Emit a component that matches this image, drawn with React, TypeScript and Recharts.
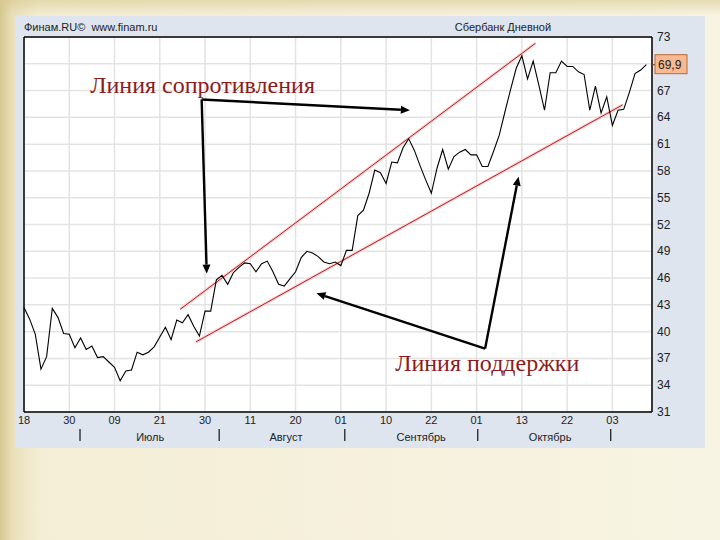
import { LineChart, Line, XAxis, YAxis, CartesianGrid, ReferenceLine, ReferenceDot } from 'recharts';

// Sberbank daily closes, one per trading day (18 Jun .. early Nov)
const closes = [
  42.7, 41.4, 39.7, 35.8, 37.2, 42.6, 41.6, 39.8, 39.7, 38.2,
  39.3, 38.0, 38.4, 37.1, 37.2, 36.6, 36.0, 34.5, 35.6, 35.7,
  37.7, 37.4, 37.7, 38.3, 39.4, 40.5, 39.1, 41.3, 41.0, 41.9,
  40.6, 39.5, 42.3, 42.3, 45.8, 46.3, 45.3, 46.6, 47.2, 47.7,
  47.6, 46.7, 47.6, 47.9, 46.7, 45.3, 45.1, 45.9, 46.7, 48.3,
  49.0, 48.8, 48.4, 47.8, 47.6, 47.8, 47.4, 49.1, 49.1, 53.0,
  53.6, 55.5, 58.1, 57.8, 56.6, 59.0, 58.9, 60.6, 61.6, 60.3,
  58.6, 57.0, 55.5, 58.3, 60.4, 58.2, 59.6, 60.1, 60.4, 59.8,
  59.8, 58.5, 58.5, 60.2, 62.0, 64.6, 67.1, 69.5, 70.9, 68.3,
  70.3, 67.6, 64.8, 69.0, 69.0, 70.3, 69.7, 69.7, 69.1, 68.8,
  64.8, 67.5, 64.5, 66.3, 63.1, 64.8, 64.9, 66.8, 68.9, 69.3,
  69.9,
];

const dayTicks = [0, 8, 16, 24, 32, 40, 48, 56, 64, 72, 80, 88, 96, 104];
const dayLabels = ['18', '30', '09', '21', '30', '11', '20', '01', '10', '22', '01', '13', '22', '03'];
const monthNames = ['Июль', 'Август', 'Сентябрь', 'Октябрь'];
const monthCenters = [22.3, 46.3, 70.2, 93.0];
const monthBreaks = [9.9, 34.5, 56.7, 80.2, 103.7];
const priceTicks = [31, 34, 37, 40, 43, 46, 49, 52, 55, 58, 61, 64, 67, 70, 73];
const lastPrice = 69.9;

// channel lines
const resistance = [{ x: 27.6, y: 42.5 }, { x: 90.4, y: 72.3 }];
const support = [{ x: 30.4, y: 38.85 }, { x: 105.8, y: 65.4 }];

// annotation arrows (corner -> target)
const resistCorner = { x: 31.4, y: 66.0 };
const resistTargets = [{ x: 68.2, y: 64.8 }, { x: 32.3, y: 46.5 }];
const supportCorner = { x: 81.5, y: 38.1 };
const supportTargets = [{ x: 51.7, y: 44.3 }, { x: 87.4, y: 57.35 }];

const data = closes.map((v, i) => ({ i, v }));
const sans = '"Liberation Sans", Arial, sans-serif';

function DayTick(props: any) {
  const { x, y, payload } = props;
  const k = dayTicks.indexOf(payload.value);
  return (
    <text x={x} y={y + 12} textAnchor="middle" fontSize={11} fontFamily={sans} fill="#222">
      {dayLabels[k]}
    </text>
  );
}

function MonthTick(props: any) {
  const { x, y, payload } = props;
  if (monthBreaks.includes(payload.value)) {
    return <line x1={x} x2={x} y1={y - 1} y2={y + 11} stroke="#222" strokeWidth={1.3} />;
  }
  const k = monthCenters.indexOf(payload.value);
  return (
    <text x={x} y={y + 11} textAnchor="middle" fontSize={11} fontFamily={sans} fill="#222">
      {monthNames[k]}
    </text>
  );
}

function PriceTick(props: any) {
  const { x, y, payload } = props;
  if (payload.value === 70) return null;
  return (
    <text x={x + 5} y={y + 4} fontSize={12} fontFamily={sans} fill="#222">
      {payload.value}
    </text>
  );
}

function arrowShape(props: any) {
  const { x1, y1, x2, y2 } = props;
  const a = Math.atan2(y2 - y1, x2 - x1);
  const len = 9;
  const w = 4;
  const bx = x2 - len * Math.cos(a);
  const by = y2 - len * Math.sin(a);
  const pts = `${x2},${y2} ${bx - w * Math.sin(a)},${by + w * Math.cos(a)} ${bx + w * Math.sin(a)},${by - w * Math.cos(a)}`;
  return (
    <g>
      <line x1={x1} y1={y1} x2={bx} y2={by} stroke="#000" strokeWidth={2.4} />
      <polygon points={pts} fill="#000" />
    </g>
  );
}

function lastPriceBox(props: any) {
  const { cx, cy } = props;
  return (
    <g>
      <line x1={cx} x2={cx + 3} y1={cy} y2={cy} stroke="#444" />
      <rect x={cx + 3} y={cy - 10} width={32} height={19} fill="#f7b98f" stroke="#b86a3a" />
      <text x={cx + 6} y={cy + 4} fontSize={12} fontFamily={sans} fill="#222">
        {String(lastPrice).replace('.', ',')}
      </text>
    </g>
  );
}

function captionShape(text: string) {
  return (props: any) => (
    <text x={props.cx} y={props.cy} fontSize={24} fontFamily='"Liberation Serif", "Times New Roman", serif' fill="#8b1c1c">
      {text}
    </text>
  );
}

export default function App() {
  return (
    <div
      style={{
        position: 'absolute',
        left: 0,
        top: 0,
        width: 720,
        height: 540,
        background:
          'linear-gradient(to bottom, rgba(214,200,140,0.55) 0px, rgba(255,255,255,0) 16px), linear-gradient(to right, #d6c890 0px, #e9dfb9 12px, #f4eed6 40px, #f8f4e3 100%)',
      }}
    >
      <div style={{ position: 'absolute', left: 15, top: 16, width: 690, height: 432, background: '#dfe5ef' }} />
      <div style={{ position: 'absolute', left: 24, top: 21, fontFamily: sans, fontSize: 11, color: '#222' }}>
        Финам.RU©&nbsp; www.finam.ru
      </div>
      <div style={{ position: 'absolute', left: 453, top: 21, width: 100, textAlign: 'center', fontFamily: sans, fontSize: 11, color: '#222' }}>
        Сбербанк Дневной
      </div>
      <div style={{ position: 'absolute', left: 0, top: 0 }}>
        <LineChart width={720} height={540} data={data} margin={{ top: 37, left: 24, right: 14, bottom: 90 }}>
          <CartesianGrid stroke="#e3e3e3" strokeWidth={1.5} fill="#ffffff" />
          <XAxis
            dataKey="i"
            type="number"
            domain={[0, 111]}
            ticks={dayTicks}
            interval={0}
            height={18}
            tickSize={0}
            tickMargin={0}
            tick={DayTick}
            axisLine={{ stroke: '#000', strokeWidth: 1.5 }}
          />
          <XAxis
            xAxisId="m"
            dataKey="i"
            type="number"
            domain={[0, 111]}
            ticks={[...monthBreaks, ...monthCenters].sort((a, b) => a - b)}
            interval={0}
            height={20}
            tickSize={0}
            tickMargin={0}
            tick={MonthTick}
            axisLine={false}
            tickLine={false}
          />
          <YAxis
            orientation="right"
            domain={[31, 73]}
            ticks={priceTicks}
            interval={0}
            width={54}
            tickSize={0}
            tickMargin={0}
            tick={PriceTick}
            axisLine={{ stroke: '#000', strokeWidth: 1.5 }}
          />
          <ReferenceLine y={73} stroke="#000" strokeWidth={1.5} />
          <ReferenceLine x={0} stroke="#000" strokeWidth={1.5} />

          <ReferenceLine segment={resistance} stroke="#f8d0d0" strokeWidth={3} />
          <ReferenceLine segment={resistance} stroke="#b82024" strokeWidth={1} />
          <ReferenceLine segment={support} stroke="#f8d0d0" strokeWidth={3} />
          <ReferenceLine segment={support} stroke="#b82024" strokeWidth={1} />

          <Line
            dataKey="v"
            type="linear"
            stroke="#000"
            strokeWidth={1.1}
            dot={false}
            isAnimationActive={false}
          />

          {resistTargets.map((t, k) => (
            <ReferenceLine key={`r${k}`} segment={[resistCorner, t]} shape={arrowShape} ifOverflow="visible" />
          ))}
          {supportTargets.map((t, k) => (
            <ReferenceLine key={`s${k}`} segment={[supportCorner, t]} shape={arrowShape} ifOverflow="visible" />
          ))}

          <ReferenceDot x={11.7} y={66.7} r={0} shape={captionShape('Линия сопротивления')} ifOverflow="visible" />
          <ReferenceDot x={65.6} y={35.6} r={0} shape={captionShape('Линия поддержки')} ifOverflow="visible" />
          <ReferenceDot x={111} y={lastPrice} r={0} shape={lastPriceBox} ifOverflow="visible" />
        </LineChart>
      </div>
    </div>
  );
}
